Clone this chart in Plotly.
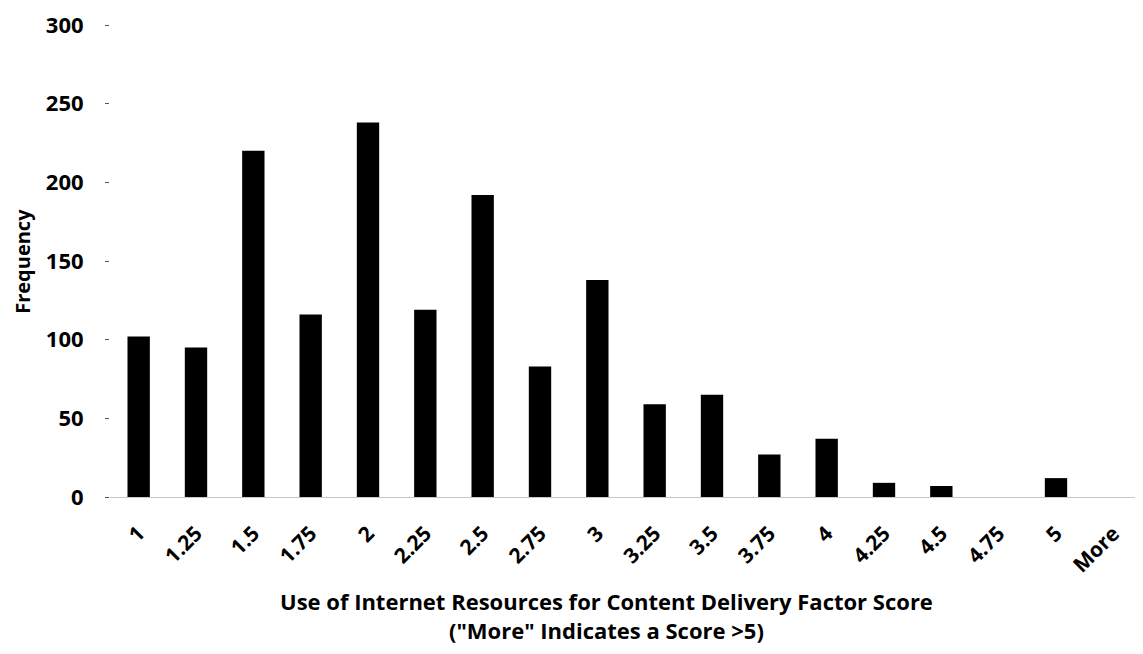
import plotly.graph_objects as go

categories = ["1", "1.25", "1.5", "1.75", "2", "2.25", "2.5", "2.75", "3", "3.25",
              "3.5", "3.75", "4", "4.25", "4.5", "4.75", "5", "More"]
frequency = [102, 95, 220, 116, 238, 119, 192, 83, 138, 59, 65, 27, 37, 9, 7, 0, 12, 0]
y_ticks = [0, 50, 100, 150, 200, 250, 300]

x_title = "Use of Internet Resources for Content Delivery Factor Score<br>(\"More\" Indicates a Score >5)"
y_title = "Frequency"

FONT = "Open Sans"

fig = go.Figure()
fig.add_trace(go.Bar(
    x=categories, y=frequency,
    marker=dict(color="#000000", line=dict(width=0)),
    width=0.39,
))

fig.update_layout(
    width=1135, height=646,
    margin=dict(l=102, r=1, t=11, b=157),
    paper_bgcolor="white", plot_bgcolor="white",
    showlegend=False,
    font=dict(family=FONT, color="#000000"),
    xaxis=dict(
        type="category",
        tickangle=-45,
        tickfont=dict(family=FONT, size=21, color="#000000", weight="bold"),
        showgrid=False, zeroline=False,
        showline=True, linecolor="#c8c8c8", linewidth=1,
        ticks="", ticklabelstandoff=15,
    ),
    yaxis=dict(
        range=[0, 300],
        tickvals=y_ticks,
        tickfont=dict(family=FONT, size=22, color="#000000", weight="bold"),
        showgrid=False, zeroline=False, showline=False,
        ticks="outside", ticklen=4, tickcolor="#555555", tickwidth=1,
        ticklabelstandoff=17, ticklabeloverflow="allow",
    ),
    annotations=[
        dict(text=x_title, xref="paper", yref="paper", x=0.481, y=-0.185,
             xanchor="center", yanchor="top", showarrow=False, align="center",
             font=dict(family=FONT, size=22, color="#000000", weight="bold")),
        dict(text=y_title, xref="paper", yref="paper", x=-0.0855, y=0.5,
             xanchor="center", yanchor="middle", showarrow=False, textangle=-90,
             font=dict(family=FONT, size=20, color="#000000", weight="bold")),
    ],
)

fig.write_html("out.html")
